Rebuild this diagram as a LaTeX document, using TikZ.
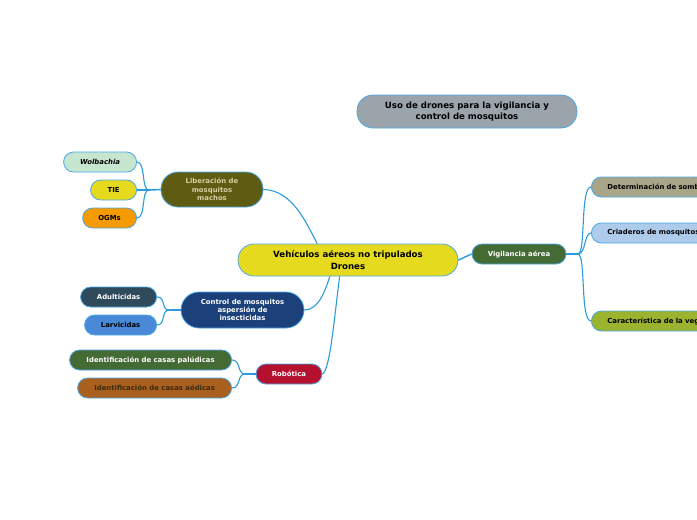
\documentclass[tikz,border=0pt]{standalone}
\usepackage{fontspec}
\setmainfont{DejaVu Sans}
\usepackage{tikz}

\begin{document}
\begin{tikzpicture}[x=1pt,y=-1pt,
    topicbox/.style={draw=custcol_4a_a8_e8, line width=0.8pt, inner sep=0, align=center,
      font=\fontsize{8.6}{11.5}\selectfont\bfseries},
    subbox/.style={draw=custcol_4a_a8_e8, line width=0.8pt, inner sep=0, align=center,
      rounded corners=10, minimum height=20, font=\fontsize{6.9}{8.4}\selectfont\bfseries},
    conn/.style={draw=custcol_2b_9b_de, line width=1.1pt}]
    \definecolor{custcol_4a_a8_e8}{RGB}{74, 168, 232}
    \definecolor{custcol_2b_9b_de}{RGB}{43, 155, 222}
    \definecolor{custcol_9b_a3_ab}{RGB}{155, 163, 171}
    \definecolor{custcol_e5_da_1e}{RGB}{229, 218, 30}
    \definecolor{custcol_45_6b_35}{RGB}{69, 107, 53}
    \definecolor{custcol_a8_a5_89}{RGB}{168, 165, 137}
    \definecolor{custcol_ae_cb_eb}{RGB}{174, 203, 235}
    \definecolor{custcol_9b_b4_30}{RGB}{155, 180, 48}
    \definecolor{custcol_5e_5b_13}{RGB}{94, 91, 19}
    \definecolor{custcol_d6_d1_a0}{RGB}{214, 209, 160}
    \definecolor{custcol_c7_e6_d0}{RGB}{199, 230, 208}
    \definecolor{custcol_f5_9a_00}{RGB}{245, 154, 0}
    \definecolor{custcol_1b_40_7a}{RGB}{27, 64, 122}
    \definecolor{custcol_2e_4a_5b}{RGB}{46, 74, 91}
    \definecolor{custcol_4a_88_d8}{RGB}{74, 136, 216}
    \definecolor{custcol_b5_11_2e}{RGB}{181, 17, 46}
    \definecolor{custcol_a9_5f_1e}{RGB}{169, 95, 30}
    \definecolor{custcol_3a_2a_10}{RGB}{58, 42, 16}
    \useasboundingbox (0,0) rectangle (697,520);
    \clip (0,0) rectangle (697,520);
    % main topics
    \node[topicbox, fill=custcol_9b_a3_ab, rounded corners=16, minimum width=220, minimum height=33] (title) at (467,111.5) {Uso de drones para la vigilancia y\\control de mosquitos};
    \node[topicbox, fill=custcol_e5_da_1e, rounded corners=16, minimum width=220, minimum height=32] (uav) at (348,260) {Vehículos aéreos no tripulados\\Drones};
    \node[subbox, fill=custcol_45_6b_35, text=white, minimum width=94] (vig) at (519,254) {Vigilancia aérea};
    \node[subbox, fill=custcol_5e_5b_13, text=custcol_d6_d1_a0, rounded corners=17, minimum width=102, minimum height=35] (lib) at (212,189.5) {Liberación de\\mosquitos\\machos};
    \node[subbox, fill=custcol_1b_40_7a, text=white, rounded corners=18, minimum width=123, minimum height=36] (ctrl) at (242.5,310) {Control de mosquitos\\aspersión de\\insecticidas};
    \node[subbox, fill=custcol_b5_11_2e, text=white, minimum width=66] (rob) at (289,374) {Robótica};
    % vigilancia
    \node[subbox, fill=custcol_a8_a5_89, anchor=west, inner xsep=16, text width=140, align=left] (somb) at (591,187) {Determinación de somb};
    \node[subbox, fill=custcol_ae_cb_eb, anchor=west, inner xsep=16, text width=140, align=left] (cria) at (591,233) {Criaderos de mosquitos};
    \node[subbox, fill=custcol_9b_b4_30, anchor=west, inner xsep=16, text width=140, align=left] (veg) at (591,321) {Característica de la veg};
    % liberacion
    \node[subbox, fill=custcol_c7_e6_d0, anchor=east, minimum width=73, font=\fontsize{6.9}{8}\selectfont\bfseries\itshape] (wol) at (137,162) {Wolbachia};
    \node[subbox, fill=custcol_e5_da_1e, anchor=east, minimum width=46] (tie) at (137,190) {TIE};
    \node[subbox, fill=custcol_f5_9a_00, anchor=east, minimum width=54] (ogm) at (137,218) {OGMs};
    % control
    \node[subbox, fill=custcol_2e_4a_5b, text=white, anchor=east, minimum width=76] (adul) at (157,297) {Adulticidas};
    \node[subbox, fill=custcol_4a_88_d8, anchor=east, minimum width=72] (larv) at (157,325) {Larvicidas};
    % robotica
    \node[subbox, fill=custcol_45_6b_35, text=white, anchor=east, minimum width=162] (palu) at (232,360) {Identificación de casas palúdicas};
    \node[subbox, fill=custcol_a9_5f_1e, text=custcol_3a_2a_10, anchor=east, minimum width=154] (aed) at (232,388) {Identificación de casas aédicas};
    % forks
    \coordinate (vigfork) at (578,254);
    \coordinate (libfork) at (149,190);
    \coordinate (ctrlfork) at (169,310);
    \coordinate (robfork) at (245,374);
    % connectors
    \draw[conn, line width=1.4pt] (uav.east) -- (vig.west);
    \draw[conn] (lib.east) .. controls (292,190) and (306,222) .. (uav.152);
    \draw[conn] (ctrl.east) .. controls (318,310) and (325,292) .. (uav.222);
    \draw[conn] (rob.east) .. controls (330,370) and (334,320) .. (uav.243);
    \draw[conn, line width=1.6pt] (vig.east) -- (vigfork);
    \draw[conn] (vigfork) .. controls (586,254) and (580,187) .. (somb.west);
    \draw[conn] (vigfork) .. controls (586,254) and (584,233) .. (cria.west);
    \draw[conn] (vigfork) .. controls (586,254) and (580,321) .. (veg.west);
    \draw[conn, line width=1.6pt] (lib.west) -- (libfork);
    \draw[conn] (libfork) .. controls (141,190) and (146,162) .. (wol.east);
    \draw[conn] (libfork) -- (tie.east);
    \draw[conn] (libfork) .. controls (141,190) and (146,218) .. (ogm.east);
    \draw[conn, line width=1.6pt] (ctrl.west) -- (ctrlfork);
    \draw[conn] (ctrlfork) .. controls (161,310) and (166,297) .. (adul.east);
    \draw[conn] (ctrlfork) .. controls (161,310) and (166,325) .. (larv.east);
    \draw[conn, line width=1.6pt] (rob.west) -- (robfork);
    \draw[conn] (robfork) .. controls (237,374) and (241,360) .. (palu.east);
    \draw[conn] (robfork) .. controls (237,374) and (241,388) .. (aed.east);
\end{tikzpicture}
\end{document}
